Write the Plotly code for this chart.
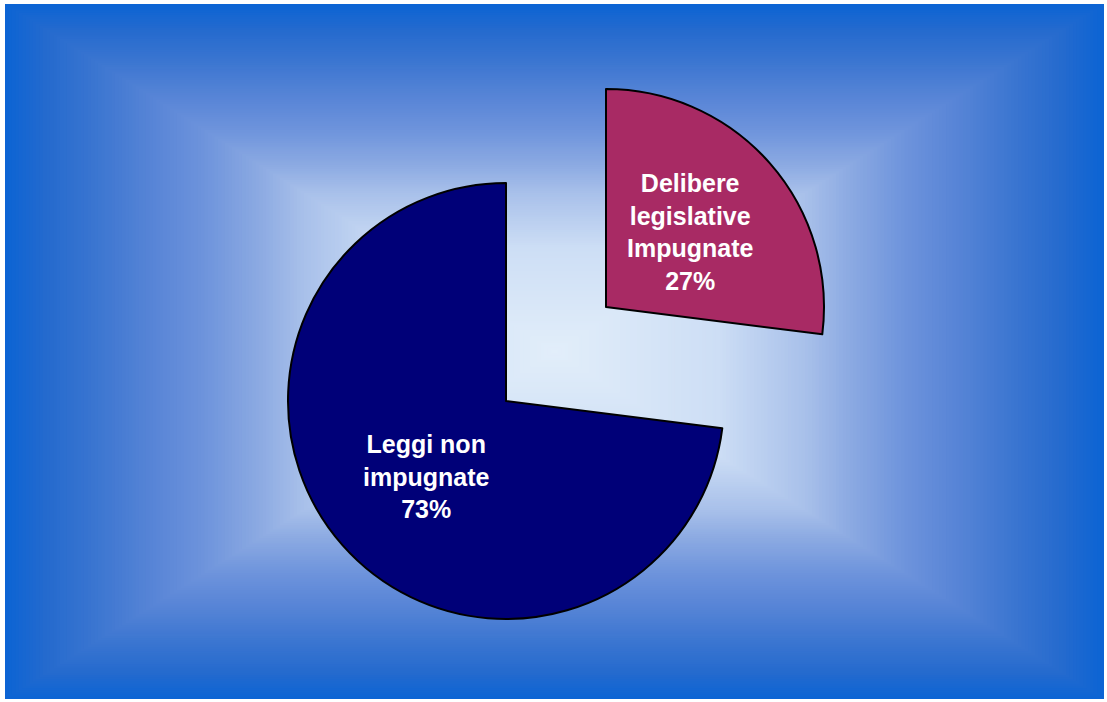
import plotly.graph_objects as go

# Share of regional laws: challenged vs. not challenged
labels = ["Leggi non<br>impugnate", "Delibere<br>legislative<br>Impugnate"]
values = [73, 27]
slice_colors = ["#000078", "#A82A64"]

W, H = 1107, 702

# Geometry of the pie (pixels)
R = 218
CENTER = (506, 401)          # main pie
DETACHED = (606, 307)        # vertex of the exploded slice
LABEL_POS = [(426, 476), (690, 232)]

# Start the large slice where the small one ends, so the small one sits at 12-3 o'clock
ROTATION = values[1] / sum(values) * 360


def px_x(x):
    return x / W


def px_y(y):
    return 1 - y / H


def domain_for(cx, cy, r):
    return dict(x=[px_x(cx - r), px_x(cx + r)], y=[px_y(cy + r), px_y(cy - r)])


# Rectangular "from centre" background gradient made of nested rectangles
stops = [
    (0.00, (226, 238, 250)),
    (0.30, (205, 222, 245)),
    (0.46, (168, 192, 234)),
    (0.54, (140, 170, 226)),
    (0.64, (110, 148, 220)),
    (0.74, (86, 132, 214)),
    (0.85, (56, 116, 208)),
    (0.93, (36, 106, 206)),
    (1.00, (12, 100, 212)),
]


def grad_color(t):
    for (t0, c0), (t1, c1) in zip(stops[:-1], stops[1:]):
        if t <= t1:
            f = (t - t0) / (t1 - t0)
            return "rgb(%d,%d,%d)" % tuple(round(a + (b - a) * f) for a, b in zip(c0, c1))
    return "rgb(%d,%d,%d)" % stops[-1][1]


left, top, right, bottom = 5, 4, 1104, 699
gcx, gcy = (left + right) / 2, (top + bottom) / 2
hw, hh = (right - left) / 2, (bottom - top) / 2

shapes = []
N = 160
for i in range(N):
    t = 1 - i / N
    shapes.append(dict(
        type="rect", xref="paper", yref="paper", layer="below",
        x0=px_x(gcx - t * hw), x1=px_x(gcx + t * hw),
        y0=px_y(gcy + t * hh), y1=px_y(gcy - t * hh),
        fillcolor=grad_color(t), line=dict(width=0),
    ))

fig = go.Figure()

# Main pie: only the large slice is visible
fig.add_trace(go.Pie(
    values=values, labels=labels, sort=False, direction="clockwise",
    rotation=ROTATION,
    marker=dict(colors=[slice_colors[0], "rgba(0,0,0,0)"],
                line=dict(color="black", width=[2, 0])),
    textinfo="none", hoverinfo="skip", showlegend=False,
    domain=domain_for(*CENTER, R),
))

# Exploded slice, drawn from a pie shifted away from the centre
fig.add_trace(go.Pie(
    values=values, labels=labels, sort=False, direction="clockwise",
    rotation=ROTATION,
    marker=dict(colors=["rgba(0,0,0,0)", slice_colors[1]],
                line=dict(color="black", width=[0, 2])),
    textinfo="none", hoverinfo="skip", showlegend=False,
    domain=domain_for(*DETACHED, R),
))

annotations = []
for lab, val, (lx, ly) in zip(labels, values, LABEL_POS):
    annotations.append(dict(
        x=px_x(lx), y=px_y(ly), xref="paper", yref="paper",
        text="<b>%s<br>%d%%</b>" % (lab, val), showarrow=False,
        font=dict(family="Liberation Sans, Arial, sans-serif", size=25, color="white"),
        align="center", xanchor="center", yanchor="middle",
    ))

fig.update_layout(
    width=W, height=H,
    margin=dict(l=0, r=0, t=0, b=0),
    paper_bgcolor="white", plot_bgcolor="white",
    shapes=shapes, annotations=annotations,
)

fig.write_html("out.html")
